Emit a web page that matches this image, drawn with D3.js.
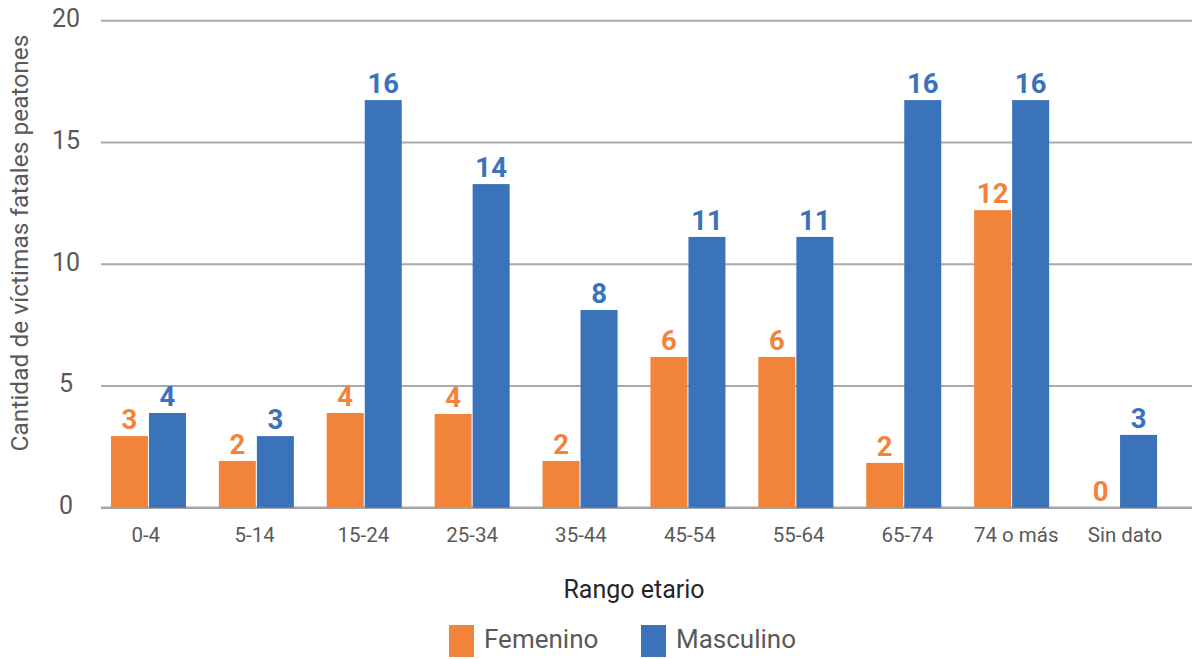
<!DOCTYPE html>
<html>
<head>
<meta charset="utf-8">
<script src="https://cdn.jsdelivr.net/npm/d3@7"></script>
<style>
  html, body { margin: 0; padding: 0; background: #ffffff; }
  svg { display: block; font-family: Roboto, "Noto Sans", sans-serif; }
</style>
</head>
<body>
<svg id="chart" width="1192" height="659"></svg>
<script>
// ---- data ----
const categories = ["0-4", "5-14", "15-24", "25-34", "35-44", "45-54", "55-64", "65-74", "74 o más", "Sin dato"];
const femenino = [2.94, 1.92, 3.89, 3.85, 1.92, 6.19, 6.19, 1.84, 12.22, 0];
const masculino = [3.89, 2.94, 16.74, 13.29, 8.12, 11.12, 11.12, 16.74, 16.74, 2.99];
const femeninoLabels = ["3", "2", "4", "4", "2", "6", "6", "2", "12", "0"];
const masculinoLabels = ["4", "3", "16", "14", "8", "11", "11", "16", "16", "3"];
const yTicks = [0, 5, 10, 15, 20];
const seriesNames = ["Femenino", "Masculino"];
const xTitle = "Rango etario";
const yTitle = "Cantidad de víctimas fatales peatones";

// ---- layout ----
const W = 1192, H = 659;
const colors = { Femenino: "#F2833B", Masculino: "#3A73BA" };
const svg = d3.select("#chart");

const x = d3.scaleBand().domain(categories).range([94.5, 1173.5]).padding(0);
const xLabel = d3.scaleBand().domain(categories).range([91.4, 1179.4]).padding(0);
const y = d3.scaleLinear().domain([0, 20]).range([507.7, 20.7]);
const barW = x.bandwidth() * 0.343;
const gapW = 1;

// gridlines
svg.append("g").selectAll("line").data(yTicks).join("line")
  .attr("x1", 101).attr("x2", W)
  .attr("y1", d => y(d)).attr("y2", d => y(d))
  .attr("stroke", d => d === 0 ? "#A5A7A6" : "#A9ABAA")
  .attr("stroke-width", d => d === 0 ? 2.5 : 2);

// y tick labels
svg.append("g").selectAll("text").data(yTicks).join("text")
  .attr("x", 66).attr("y", d => y(d) - 2)
  .attr("text-anchor", "middle").attr("dominant-baseline", "central")
  .attr("font-size", 25).attr("fill", "#595959")
  .text(d => d);

// bars
const groups = [
  { name: "Femenino", values: femenino, labels: femeninoLabels, off: -barW - gapW / 2 },
  { name: "Masculino", values: masculino, labels: masculinoLabels, off: gapW / 2 }
];

groups.forEach(g => {
  const cx = c => x(c) + x.bandwidth() / 2;
  svg.append("g").selectAll("rect").data(categories).join("rect")
    .attr("x", (c) => cx(c) + g.off)
    .attr("y", (c, i) => y(g.values[i]))
    .attr("width", barW)
    .attr("height", (c, i) => y(0) - y(g.values[i]))
    .attr("fill", colors[g.name]);
  svg.append("g").selectAll("text").data(categories).join("text")
    .attr("x", c => cx(c) + g.off + barW / 2)
    .attr("y", (c, i) => y(g.values[i]) - 7)
    .attr("text-anchor", "middle")
    .attr("font-size", 27.5).attr("font-weight", "bold")
    .attr("fill", colors[g.name])
    .text((c, i) => g.labels[i]);
});

// category labels
svg.append("g").selectAll("text").data(categories).join("text")
  .attr("x", c => xLabel(c) + xLabel.bandwidth() / 2)
  .attr("y", 541.5)
  .attr("text-anchor", "middle")
  .attr("font-size", 20.5).attr("fill", "#595959")
  .text(c => c);

// axis titles
svg.append("text")
  .attr("x", 634).attr("y", 598)
  .attr("text-anchor", "middle")
  .attr("font-size", 25).attr("fill", "#262626")
  .text(xTitle);

svg.append("text")
  .attr("transform", "translate(27.5,243) rotate(-90)")
  .attr("text-anchor", "middle")
  .attr("font-size", 24.5).attr("fill", "#595959")
  .text(yTitle);

// legend
const legendX = [449, 641];
const leg = svg.append("g").selectAll("g").data(seriesNames).join("g")
  .attr("transform", (d, i) => `translate(${legendX[i]},625)`);
leg.append("rect").attr("width", 25).attr("height", 32).attr("fill", d => colors[d]);
leg.append("text").attr("x", 35).attr("y", 23)
  .attr("font-size", 26).attr("fill", "#595959")
  .text(d => d);
</script>
</body>
</html>
